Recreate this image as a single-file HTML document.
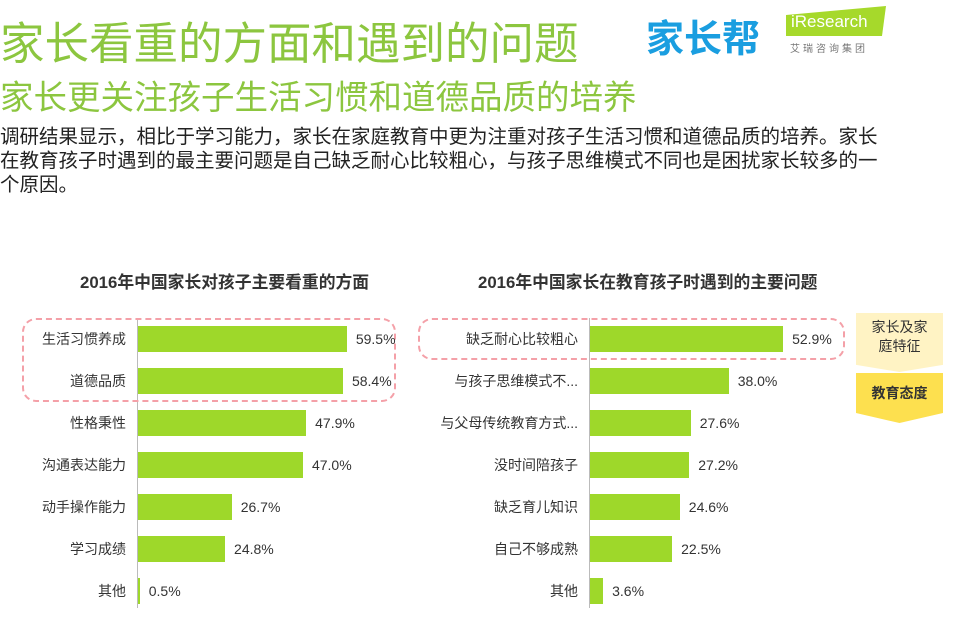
<!DOCTYPE html><html><head><meta charset="utf-8"><style>
body{margin:0;width:955px;height:636px;background:#fff;position:relative;overflow:hidden;font-family:"Liberation Sans","Noto Sans CJK SC",sans-serif}
.a{position:absolute;white-space:nowrap}
.bar{position:absolute;height:26px;background:#9ed82a}
.lb{position:absolute;font-size:14px;color:#333;text-align:right;width:160px;line-height:26px;white-space:nowrap}
.v{position:absolute;font-size:14px;color:#333;line-height:26px}
</style></head><body>
<div class="a" style="left:0;top:7px;font-size:44.5px;color:#8cc63f">家长看重的方面和遇到的问题</div>
<div class="a" style="left:0;top:70px;font-size:33.5px;color:#8cc63f">家长更关注孩子生活习惯和道德品质的培养</div>
<div class="a" style="left:0;top:125px;font-size:19.5px;line-height:24px;color:#222;white-space:normal;width:890px">调研结果显示，相比于学习能力，家长在家庭教育中更为注重对孩子生活习惯和道德品质的培养。家长在教育孩子时遇到的最主要问题是自己缺乏耐心比较粗心，与孩子思维模式不同也是困扰家长较多的一个原因。</div>
<div class="a" style="left:646px;top:8px;font-size:38px;font-weight:bold;color:#1a9ee0">家长帮</div>
<div class="a" style="left:786px;top:6px;width:100px;height:30px;background:#a6d92b;clip-path:polygon(0 30%,100% 0,96% 100%,0 100%)"></div>
<div class="a" style="left:791px;top:12px;font-size:17px;color:#fff">iResearch</div>
<div class="a" style="left:790px;top:40px;font-size:10px;color:#777;letter-spacing:3px">艾瑞咨询集团</div>
<div class="a" style="left:80px;top:269px;font-size:16.8px;font-weight:bold;color:#333">2016年中国家长对孩子主要看重的方面</div>
<div class="a" style="left:478px;top:269px;font-size:16.8px;font-weight:bold;color:#333">2016年中国家长在教育孩子时遇到的主要问题</div>
<div class="a" style="left:137px;top:318px;width:1px;height:290px;background:#bbb"></div>
<div class="a" style="left:589px;top:318px;width:1px;height:290px;background:#bbb"></div>
<div class="a" style="left:22px;top:318px;width:370px;height:80px;border:2px dashed #f4a0a8;border-radius:14px"></div>
<div class="a" style="left:418px;top:318px;width:423px;height:38px;border:2px dashed #f4a0a8;border-radius:14px"></div>
<div id="c"></div>
<div class="a" style="left:856px;top:313px;width:87px;height:59px;background:#fff3c4;clip-path:polygon(0 0,100% 0,100% 88%,50% 100%,0 88%)"></div>
<div class="a" style="left:856px;top:318px;width:87px;text-align:center;font-size:14px;line-height:19px;color:#333">家长及家<br>庭特征</div>
<div class="a" style="left:856px;top:373px;width:87px;height:50px;background:#fde04f;clip-path:polygon(0 0,100% 0,100% 80%,50% 100%,0 80%)"></div>
<div class="a" style="left:856px;top:383px;width:87px;text-align:center;font-size:14px;font-weight:bold;color:#333">教育态度</div>
<script>
var L=[["生活习惯养成",59.5],["道德品质",58.4],["性格秉性",47.9],["沟通表达能力",47.0],["动手操作能力",26.7],["学习成绩",24.8],["其他",0.5]];
var R=[["缺乏耐心比较粗心",52.9],["与孩子思维模式不...",38.0],["与父母传统教育方式...",27.6],["没时间陪孩子",27.2],["缺乏育儿知识",24.6],["自己不够成熟",22.5],["其他",3.6]];
var h="";
function d(a,x,s){a.forEach(function(r,i){var y=326+i*42,w=r[1]*s;
h+='<div class="lb" style="left:'+(x-171)+'px;top:'+y+'px">'+r[0]+'</div>';
h+='<div class="bar" style="left:'+(x+1)+'px;top:'+y+'px;width:'+w+'px"></div>';
h+='<div class="v" style="left:'+(x+w+10)+'px;top:'+y+'px">'+r[1].toFixed(1)+'%</div>';});}
d(L,137,3.51);d(R,589,3.65);
document.getElementById("c").innerHTML=h;
</script>
</body></html>
